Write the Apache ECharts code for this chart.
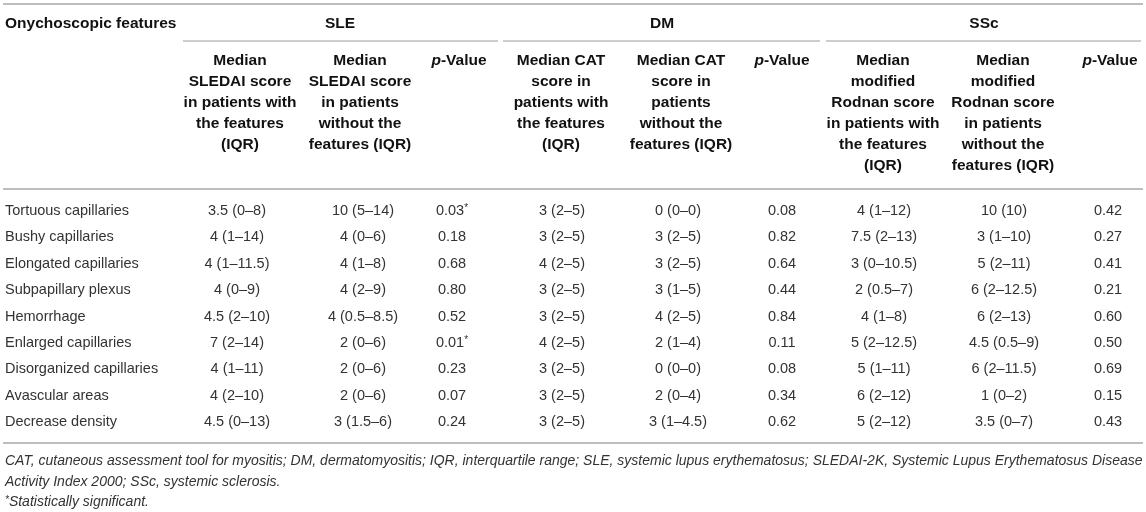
<!DOCTYPE html>
<html>
<head>
<meta charset="utf-8">
<script src="https://cdn.jsdelivr.net/npm/echarts@6/dist/echarts.min.js"></script>
<style>
html,body{margin:0;padding:0;background:#fff;}
#chart{width:1146px;height:512px;}
</style>
</head>
<body>
<div id="chart"></div>
<script>
// ---------- DATA ----------
const firstHeader = 'Onychoscopic features';
const groups = ['SLE', 'DM', 'SSc'];
const subHeaders = [
  'Median\nSLEDAI score\nin patients with\nthe features\n(IQR)',
  'Median\nSLEDAI score\nin patients\nwithout the\nfeatures (IQR)',
  '{i|p}-Value',
  'Median CAT\nscore in\npatients with\nthe features\n(IQR)',
  'Median CAT\nscore in\npatients\nwithout the\nfeatures (IQR)',
  '{i|p}-Value',
  'Median\nmodified\nRodnan score\nin patients with\nthe features\n(IQR)',
  'Median\nmodified\nRodnan score\nin patients\nwithout the\nfeatures (IQR)',
  '{i|p}-Value'
];
const features = ['Tortuous capillaries','Bushy capillaries','Elongated capillaries','Subpapillary plexus','Hemorrhage','Enlarged capillaries','Disorganized capillaries','Avascular areas','Decrease density'];
const sleWith    = ['3.5 (0–8)','4 (1–14)','4 (1–11.5)','4 (0–9)','4.5 (2–10)','7 (2–14)','4 (1–11)','4 (2–10)','4.5 (0–13)'];
const sleWithout = ['10 (5–14)','4 (0–6)','4 (1–8)','4 (2–9)','4 (0.5–8.5)','2 (0–6)','2 (0–6)','2 (0–6)','3 (1.5–6)'];
const sleP       = ['0.03*','0.18','0.68','0.80','0.52','0.01*','0.23','0.07','0.24'];
const dmWith     = ['3 (2–5)','3 (2–5)','4 (2–5)','3 (2–5)','3 (2–5)','4 (2–5)','3 (2–5)','3 (2–5)','3 (2–5)'];
const dmWithout  = ['0 (0–0)','3 (2–5)','3 (2–5)','3 (1–5)','4 (2–5)','2 (1–4)','0 (0–0)','2 (0–4)','3 (1–4.5)'];
const dmP        = ['0.08','0.82','0.64','0.44','0.84','0.11','0.08','0.34','0.62'];
const sscWith    = ['4 (1–12)','7.5 (2–13)','3 (0–10.5)','2 (0.5–7)','4 (1–8)','5 (2–12.5)','5 (1–11)','6 (2–12)','5 (2–12)'];
const sscWithout = ['10 (10)','3 (1–10)','5 (2–11)','6 (2–12.5)','6 (2–13)','4.5 (0.5–9)','6 (2–11.5)','1 (0–2)','3.5 (0–7)'];
const sscP       = ['0.42','0.27','0.41','0.21','0.60','0.50','0.69','0.15','0.43'];
const footnotes = [
  'CAT, cutaneous assessment tool for myositis; DM, dermatomyositis; IQR, interquartile range; SLE, systemic lupus erythematosus; SLEDAI-2K, Systemic Lupus Erythematosus Disease',
  'Activity Index 2000; SSc, systemic sclerosis.',
  '{s|*}Statistically significant.'
];

// ---------- LAYOUT (not data) ----------
const W = 1146, H = 512;
const leftX = 5;
const groupY = 24;
const groupCenters = [340, 662, 984];
const groupLines = [[183, 498], [503, 820], [826, 1141]];
const groupLineY = 41;
const subHeaderTop = 50.5;
const headerCenters = [240, 360, 459, 561, 681, 782, 883, 1003, 1110];
const valueCenters  = [237, 363, 452, 562, 678, 782, 884, 1004, 1108];
const topLineY = 4, headLineY = 189, bottomLineY = 443;
const firstRowY = 211, rowStep = 26.4;
const footY = [461, 482, 502];

const FONT = '"Liberation Sans", Arial, Helvetica, sans-serif';
const HEAD_COLOR = '#111';
const BODY_COLOR = '#333';
const LINE_COLOR = '#bdbdbd';

// ---------- BUILD CELLS ----------
const columns = [sleWith, sleWithout, sleP, dmWith, dmWithout, dmP, sscWith, sscWithout, sscP];
const cells = [];
cells.push({x: leftX, y: groupY, text: firstHeader, kind: 'head', align: 'left', va: 'middle'});
groups.forEach((g, i) => cells.push({x: groupCenters[i], y: groupY, text: g, kind: 'head', align: 'center', va: 'middle'}));
subHeaders.forEach((t, i) => cells.push({x: headerCenters[i], y: subHeaderTop, text: t, kind: 'head', align: 'center', va: 'top'}));
features.forEach((f, r) => {
  const y = firstRowY + r * rowStep;
  cells.push({x: leftX, y: y, text: f, kind: 'body', align: 'left', va: 'middle'});
  columns.forEach((col, c) => {
    let t = col[r];
    if (t.endsWith('*')) t = t.slice(0, -1) + '{s|*}';
    cells.push({x: valueCenters[c], y: y, text: t, kind: 'body', align: 'center', va: 'middle'});
  });
});
footnotes.forEach((t, i) => cells.push({x: leftX, y: footY[i], text: t, kind: 'foot', align: 'left', va: 'middle'}));

const lines = [
  {x1: 3, x2: 1143, y: topLineY, w: 2},
  {x1: 3, x2: 1143, y: headLineY, w: 2},
  {x1: 3, x2: 1143, y: bottomLineY, w: 2}
];
groupLines.forEach(g => lines.push({x1: g[0], x2: g[1], y: groupLineY, w: 1.5}));

function styleFor(cell) {
  const base = {
    text: cell.text,
    align: cell.align,
    verticalAlign: cell.va,
    fontFamily: FONT
  };
  if (cell.kind === 'head') {
    Object.assign(base, {fontSize: 15.5, fontWeight: 'bold', fill: HEAD_COLOR, lineHeight: 21,
      rich: {
        i: {fontSize: 15.5, fontWeight: 'bold', fontStyle: 'italic', fontFamily: FONT, fill: HEAD_COLOR}
      }});
  } else if (cell.kind === 'body') {
    Object.assign(base, {fontSize: 14.5, fill: BODY_COLOR,
      rich: {
        s: {fontSize: 10, fontFamily: FONT, fill: BODY_COLOR, verticalAlign: 'top', lineHeight: 10}
      }});
  } else {
    Object.assign(base, {fontSize: 14, fontStyle: 'italic', fill: BODY_COLOR,
      rich: {
        s: {fontSize: 10, fontStyle: 'italic', fontFamily: FONT, fill: BODY_COLOR, verticalAlign: 'top', lineHeight: 10}
      }});
  }
  return base;
}

const chart = echarts.init(document.getElementById('chart'), null, {renderer: 'canvas'});
chart.setOption({
  animation: false,
  backgroundColor: '#fff',
  grid: {left: 0, right: 0, top: 0, bottom: 0},
  xAxis: {type: 'value', min: 0, max: W, show: false},
  yAxis: {type: 'value', min: 0, max: H, inverse: true, show: false},
  series: [
    {
      type: 'custom',
      silent: true,
      data: lines.map(l => [l.x1, l.y, l.x2]),
      renderItem: function (params, api) {
        const l = lines[params.dataIndex];
        const p1 = api.coord([api.value(0), api.value(1)]);
        const p2 = api.coord([api.value(2), api.value(1)]);
        return {type: 'line', shape: {x1: p1[0], y1: p1[1], x2: p2[0], y2: p2[1]},
          style: {stroke: LINE_COLOR, lineWidth: l.w}};
      }
    },
    {
      type: 'custom',
      silent: true,
      data: cells.map(c => [c.x, c.y]),
      renderItem: function (params, api) {
        const c = cells[params.dataIndex];
        const p = api.coord([api.value(0), api.value(1)]);
        return {type: 'text', x: p[0], y: p[1], style: styleFor(c)};
      }
    }
  ]
});
</script>
</body>
</html>
